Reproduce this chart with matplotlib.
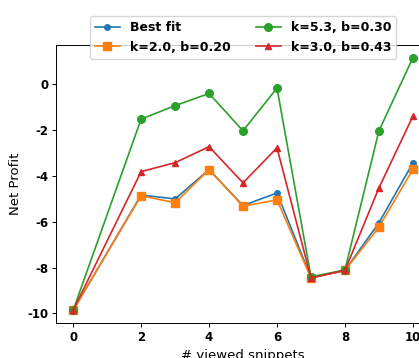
import matplotlib
matplotlib.use('Agg')
import matplotlib.pyplot as plt

# number of snippets viewed (no point at 1)
snippets = [0, 2, 3, 4, 5, 6, 7, 8, 9, 10]

best_fit = [-9.86, -4.83, -5.00, -3.72, -5.29, -4.74, -8.43, -8.12, -6.04, -3.43]
k20_b020 = [-9.86, -4.86, -5.17, -3.72, -5.32, -5.04, -8.45, -8.12, -6.23, -3.71]
k53_b030 = [-9.86, -1.52, -0.93, -0.40, -2.03, -0.16, -8.40, -8.10, -2.03, 1.16]
k30_b043 = [-9.86, -3.81, -3.42, -2.72, -4.30, -2.77, -8.45, -8.12, -4.52, -1.39]

plt.rcParams['axes.unicode_minus'] = False
plt.rcParams['axes.linewidth'] = 0.7
plt.rcParams['xtick.major.size'] = 2.8
plt.rcParams['ytick.major.size'] = 2.8
plt.rcParams['xtick.major.width'] = 0.7
plt.rcParams['ytick.major.width'] = 0.7

fig = plt.figure(figsize=(4.19, 3.58), dpi=100)
ax = fig.add_axes([0.134, 0.098, 0.892, 0.776])

lw = 1.2
ax.plot(snippets, best_fit, marker='o', ms=4, lw=lw, color='tab:blue', label='Best fit')
ax.plot(snippets, k20_b020, marker='s', ms=5.5, lw=lw, color='tab:orange', label='k=2.0, b=0.20')
ax.plot(snippets, k53_b030, marker='o', ms=5.5, lw=lw, color='tab:green', label='k=5.3, b=0.30')
ax.plot(snippets, k30_b043, marker='^', ms=5, lw=lw, color='tab:red', label='k=3.0, b=0.43')

ax.set_xlabel('# viewed snippets', fontsize=9.5)
ax.set_ylabel('Net Profit', fontsize=9.5)
ax.set_xticks([0, 2, 4, 6, 8, 10])
ax.set_yticks([-10, -8, -6, -4, -2, 0])
ax.tick_params(labelsize=8.5, pad=2.8)
for lab in ax.get_xticklabels() + ax.get_yticklabels():
    lab.set_fontweight('bold')

ax.legend(loc='upper center', bbox_to_anchor=(0.5, 1.126), ncol=2,
          prop={'weight': 'bold', 'size': 9})

fig.savefig('out.png', dpi=100)
